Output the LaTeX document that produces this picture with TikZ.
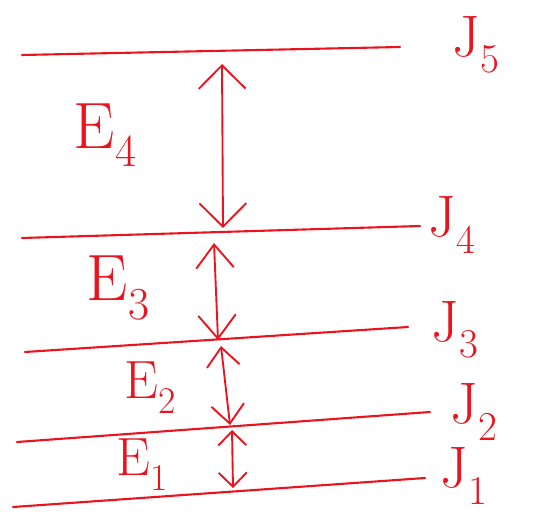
\documentclass[tikz,border=0pt]{standalone}
\usepackage{fontspec}
\usetikzlibrary{arrows.meta}
\definecolor{pen}{RGB}{235,20,30}
\newcommand{\lvsub}[2]{#1\raisebox{-0.28em}{\scalebox{0.7}{#2}}}
\begin{document}
\begin{tikzpicture}[x=0.03cm,y=-0.03cm,
  level/.style={draw=pen,line width=1.8pt,line cap=round},
  trans/.style 2 args={draw=pen,line width=1.6pt,line cap=round,
    {Straight Barb[length=#1,width=#2,line width=1.6pt]}-{Straight Barb[length=#1,width=#2,line width=1.6pt]}},
  lab/.style={text=pen,inner sep=0pt,font=\fontsize{56}{60}\selectfont},
  jlab/.style={text=pen,inner sep=0pt,font=\fontsize{50}{54}\selectfont},
  slab/.style={text=pen,inner sep=0pt,font=\fontsize{46}{50}\selectfont}]
\useasboundingbox (0,0) rectangle (540,513);
% levels
\coordinate (l5a) at (22,55);  \coordinate (l5b) at (400,47);
\coordinate (l4a) at (22,238); \coordinate (l4b) at (420,226);
\coordinate (l3a) at (25,352); \coordinate (l3b) at (408,327);
\coordinate (l2a) at (17,442); \coordinate (l2b) at (430,412);
\coordinate (l1a) at (13,507); \coordinate (l1b) at (425,478);
\draw[level] (l5a) -- (l5b);
\draw[level] (l4a) -- (l4b);
\draw[level] (l3a) -- (l3b);
\draw[level] (l2a) -- (l2b);
\draw[level] (l1a) -- (l1b);
% transitions
\coordinate (t4a) at (222,64);  \coordinate (t4b) at (223,228);
\coordinate (t3a) at (214,243); \coordinate (t3b) at (218,340);
\coordinate (t2a) at (221,346); \coordinate (t2b) at (230,425);
\coordinate (t1a) at (232,430); \coordinate (t1b) at (233,488);
\draw[trans={20pt}{40pt}] (t4a) -- (t4b);
\draw[trans={20pt}{32pt}] (t3a) -- (t3b);
\draw[trans={16pt}{28pt}] (t2a) -- (t2b);
\draw[trans={12pt}{24pt}] (t1a) -- (t1b);
% labels
\node[jlab] (j5) at (476,45) {\lvsub{J}{5}};
\node[jlab] (j4) at (452,225) {\lvsub{J}{4}};
\node[jlab] (j3) at (455,330) {\lvsub{J}{3}};
\node[jlab] (j2) at (474,412) {\lvsub{J}{2}};
\node[jlab] (j1) at (464,476) {\lvsub{J}{1}};
\node[lab] (e4) at (105,135) {\lvsub{E}{4}};
\node[lab] (e3) at (118,288) {\lvsub{E}{3}};
\node[slab] (e2) at (150,388) {\lvsub{E}{2}};
\node[slab] (e1) at (142,465) {\lvsub{E}{1}};
\end{tikzpicture}
\end{document}
